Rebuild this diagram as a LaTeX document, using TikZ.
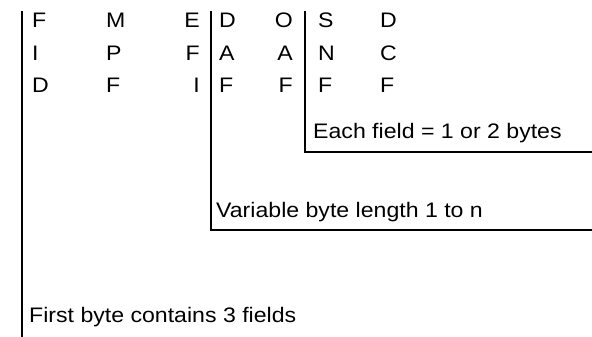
\documentclass[tikz,border=0pt]{standalone}
\usepackage{fontspec}
\setmainfont{Liberation Sans}[FakeStretch=1.1]

\tikzset{
    fld/.style={inner sep=0pt, font=\fontsize{21}{25}\selectfont},
    bar/.style={line width=2.6pt},
}

\begin{document}
\begin{tikzpicture}[x=1pt, y=1pt]
        \useasboundingbox (0,0) rectangle (592,337);
        % the seven field columns, one row of letters per pass
        \foreach \a/\b/\c/\d/\e/\f/\g [count=\r] in
            {F/M/E/D/O/S/D, I/P/F/A/A/N/C, D/F/I/F/F/F/F} {
            \pgfmathsetmacro\yy{341.5-32.5*\r}
            \node[fld, anchor=base west] (fid\r) at (32,\yy) {\a};
            \node[fld, anchor=base west] (mpf\r) at (106,\yy) {\b};
            \node[fld, anchor=base east] (efi\r) at (200,\yy) {\c};
            \node[fld, anchor=base west] (daf\r) at (219,\yy) {\d};
            \node[fld, anchor=base east] (oaf\r) at (293,\yy) {\e};
            \node[fld, anchor=base west] (snf\r) at (318,\yy) {\f};
            \node[fld, anchor=base west] (dcf\r) at (380,\yy) {\g};
        }
        % brackets
        \draw[bar] (22,326)--(22,0);
        \draw[bar] (211,326)--(211,107)--(592,107);
        \draw[bar] (305,326)--(305,185)--(592,185);
        \node[fld, anchor=base west] (each) at (313,198) {Each field = 1 or 2 bytes};
        \node[fld, anchor=base west] (var) at (216,119) {Variable byte length 1 to n};
        \node[fld, anchor=base west] (first) at (29,14) {First byte contains 3 fields};
    \end{tikzpicture}
\end{document}
